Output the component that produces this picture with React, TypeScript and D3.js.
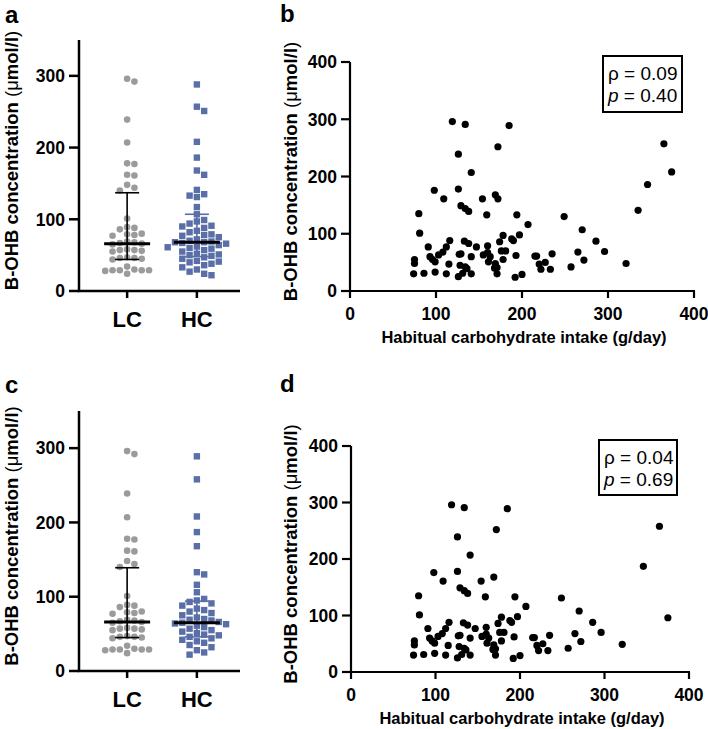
import React from "react";
import * as d3 from "d3";

// groups + stats
const groups = ["LC", "HC"];
const lcValues = [296, 292, 239, 207, 178, 177, 162, 161, 148, 144, 140, 101, 89, 88, 86, 80, 79, 78, 77, 69, 68, 67, 66, 65, 58, 57, 57, 56, 55, 47, 46, 46, 45, 44, 34, 30, 29, 29, 29, 29, 28, 24];
const hcValuesA = [288, 257, 251, 208, 186, 168, 162, 141, 135, 133, 131, 117, 107, 99, 97, 94, 91, 90, 88, 84, 82, 79, 78, 77, 75, 72, 70, 69, 68, 68, 67, 66, 64, 62, 61, 60, 59, 57, 55, 52, 51, 50, 49, 47, 45, 42, 41, 40, 38, 36, 33, 30, 27, 24, 22];
const hcValuesC = [289, 258, 208, 187, 168, 133, 130, 116, 106, 97, 95, 93, 91, 88, 84, 82, 80, 78, 75, 72, 70, 69, 68, 66, 65, 64, 63, 61, 59, 57, 55, 53, 51, 49, 48, 46, 44, 42, 40, 38, 35, 32, 28, 25, 22];
const medianA = [66, 68];
const q1A = [44, 48];
const q3A = [137, 107];
const medianC = [66, 65];
const q1C = [45, 46];
const q3C = [139, 94];
const dotTicks = [0, 100, 200, 300];

// scatter: intake (g/day) vs B-OHB
const intakeB = [119, 134, 185, 126, 172, 141, 98, 126, 109, 154, 169, 172, 129, 134, 138, 80, 159, 194, 81, 207, 91, 93, 96, 99, 103, 108, 112, 116, 75, 75, 74, 86, 99, 112, 115, 129, 133, 138, 141, 147, 128, 134, 136, 131, 126, 141, 127, 160, 160, 155, 163, 161, 169, 171, 171, 174, 178, 181, 178, 188, 190, 193, 192, 200, 197, 176, 168, 365, 374, 346, 335, 249, 270, 286, 296, 321, 265, 272, 257, 235, 215, 217, 220, 227, 222, 233];
const bohbB = [296, 291, 289, 239, 252, 207, 176, 178, 161, 161, 168, 161, 149, 144, 139, 135, 133, 133, 101, 116, 77, 60, 55, 51, 63, 68, 77, 88, 55, 48, 30, 31, 33, 30, 47, 65, 87, 83, 60, 77, 45, 42, 39, 31, 25, 30, 64, 79, 67, 63, 60, 51, 48, 41, 30, 86, 97, 70, 55, 91, 88, 62, 24, 29, 98, 70, 40, 257, 208, 186, 141, 130, 107, 87, 69, 48, 68, 54, 42, 65, 61, 61, 47, 50, 38, 38];
const intakeD = [119, 134, 185, 126, 172, 141, 98, 126, 109, 154, 169, 129, 134, 138, 80, 159, 194, 81, 207, 91, 93, 96, 99, 103, 108, 112, 116, 75, 75, 74, 86, 99, 112, 115, 129, 133, 138, 141, 147, 128, 134, 136, 131, 126, 141, 127, 160, 160, 155, 163, 161, 169, 171, 171, 174, 178, 181, 178, 188, 190, 193, 192, 200, 197, 176, 168, 365, 375, 346, 249, 270, 286, 296, 321, 265, 272, 257, 235, 215, 217, 220, 227, 222, 233];
const bohbD = [296, 291, 289, 239, 252, 207, 176, 178, 161, 161, 168, 149, 144, 139, 135, 133, 133, 101, 116, 77, 60, 55, 51, 63, 68, 77, 88, 55, 48, 30, 31, 33, 30, 47, 65, 87, 83, 60, 77, 45, 42, 39, 31, 25, 30, 64, 79, 67, 63, 60, 51, 48, 41, 30, 86, 97, 70, 55, 91, 88, 62, 24, 29, 98, 70, 40, 258, 96, 187, 131, 108, 88, 70, 49, 68, 54, 42, 65, 61, 61, 47, 50, 38, 38];
const scatterTicks = [0, 100, 200, 300, 400];
const statsB = ["0.09", "0.40"];
const statsD = ["0.04", "0.69"];

const FONT = "'Liberation Sans', Arial, Helvetica, sans-serif";
const GREY = "#9b9b9b";
const BLUE = "#5a6fa8";

type Pt = { x: number; y: number };

// greedy column scatter like prism does it
function swarm(values: number[], y: (v: number) => number, cx: number, step: number, dist: number): Pt[] {
  const out: Pt[] = [];
  const sorted = values.slice().sort((a, b) => b - a);
  for (const v of sorted) {
    const py = y(v);
    for (let k = 0; k < 40; k++) {
      const off = k === 0 ? 0 : (k % 2 === 1 ? 1 : -1) * Math.ceil(k / 2);
      const px = cx + off * step;
      if (out.every((p) => Math.hypot(p.x - px, p.y - py) >= dist)) {
        out.push({ x: px, y: py });
        break;
      }
    }
  }
  return out;
}

function YLabel({ x, y }: { x: number; y: number }) {
  return (
    <text transform={`translate(${x},${y}) rotate(-90)`} textAnchor="middle" fontSize={18.5} fontWeight="bold">
      B-OHB concentration <tspan fontWeight="normal">(μ</tspan>mol/l<tspan fontWeight="normal">)</tspan>
    </text>
  );
}

function DotPanel({ letter, top, bottom, hc, median, q1, q3, letterY }: any) {
  const left = 79;
  const x = d3.scalePoint<string>().domain(groups).range([left, 245]).padding(0.69);
  const y = d3.scaleLinear().domain([0, 350]).range([bottom, top]);
  const lc = swarm(lcValues, y, x("LC")!, 7.3, 6.8);
  const hcPts = swarm(hc, y, x("HC")!, 7.3, 6.8);
  const colors = ["#000", BLUE];
  return (
    <g>
      <text x={5} y={letterY} fontSize={24} fontWeight="bold">{letter}</text>
      <YLabel x={18} y={(top + bottom) / 2 - 5} />
      {lc.map((p, i) => (
        <circle key={"l" + i} cx={p.x} cy={p.y} r={3.3} fill={GREY} />
      ))}
      {hcPts.map((p, i) => (
        <rect key={"h" + i} x={p.x - 3.2} y={p.y - 3.2} width={6.4} height={6.4} fill={BLUE} />
      ))}
      {groups.map((g, i) => {
        const cx = x(g)!;
        return (
          <g key={g} stroke={colors[i]}>
            <line x1={cx} x2={cx} y1={y(q1[i])} y2={y(q3[i])} strokeWidth={1.6} />
            <line x1={cx - 12} x2={cx + 12} y1={y(q1[i])} y2={y(q1[i])} strokeWidth={1.6} />
            <line x1={cx - 12} x2={cx + 12} y1={y(q3[i])} y2={y(q3[i])} strokeWidth={1.6} />
            <line x1={cx - 23} x2={cx + 23} y1={y(median[i])} y2={y(median[i])} strokeWidth={3} stroke="#000" />
          </g>
        );
      })}
      <line x1={left} x2={left} y1={top} y2={bottom} stroke="#000" strokeWidth={2.5} />
      <line x1={left - 1.25} x2={240} y1={bottom} y2={bottom} stroke="#000" strokeWidth={2.5} />
      {dotTicks.map((t) => (
        <g key={t}>
          <line x1={left - 10} x2={left} y1={y(t)} y2={y(t)} stroke="#000" strokeWidth={2.5} />
          <text x={left - 14} y={y(t)} dy="0.36em" textAnchor="end" fontSize={17.5} fontWeight="bold">{t}</text>
        </g>
      ))}
      {groups.map((g) => (
        <g key={g}>
          <line x1={x(g)} x2={x(g)} y1={bottom} y2={bottom + 7} stroke="#000" strokeWidth={2.5} />
          <text x={x(g)} y={bottom + 36} textAnchor="middle" fontSize={22} fontWeight="bold">{g}</text>
        </g>
      ))}
    </g>
  );
}

function ScatterPanel({ letter, letterY, xs, ys, stats, left, right, top, bottom, box }: any) {
  const x = d3.scaleLinear().domain([0, 400]).range([left, right]);
  const y = d3.scaleLinear().domain([0, 400]).range([bottom, top]);
  return (
    <g>
      <text x={280} y={letterY} fontSize={24} fontWeight="bold">{letter}</text>
      <YLabel x={297} y={(top + bottom) / 2 - 5} />
      {xs.map((v: number, i: number) => (
        <circle key={i} cx={x(v)} cy={y(ys[i])} r={3.6} fill="#000" />
      ))}
      <line x1={left} x2={left} y1={top} y2={bottom} stroke="#000" strokeWidth={2.2} />
      <line x1={left - 1} x2={right + 1} y1={bottom} y2={bottom} stroke="#000" strokeWidth={2.2} />
      {scatterTicks.map((t) => (
        <g key={t}>
          <line x1={left - 9} x2={left} y1={y(t)} y2={y(t)} stroke="#000" strokeWidth={2.2} />
          <text x={left - 13} y={y(t)} dy="0.36em" textAnchor="end" fontSize={17.5} fontWeight="bold">{t}</text>
          <line x1={x(t)} x2={x(t)} y1={bottom} y2={bottom + 7} stroke="#000" strokeWidth={2.2} />
          <text x={x(t)} y={bottom + 29} textAnchor="middle" fontSize={17.5} fontWeight="bold">{t}</text>
        </g>
      ))}
      <text x={(left + right) / 2 + 2} y={bottom + 52} textAnchor="middle" fontSize={16.5} fontWeight="bold">
        Habitual carbohydrate intake (g/day)
      </text>
      <rect x={box[0]} y={box[1]} width={box[2]} height={box[3]} fill="none" stroke="#000" strokeWidth={2} />
      <text x={box[0] + 5} y={box[1] + 24} fontSize={19}>ρ = {stats[0]}</text>
      <text x={box[0] + 5} y={box[1] + 46} fontSize={19}>
        <tspan fontStyle="italic">p</tspan> = {stats[1]}
      </text>
    </g>
  );
}

export default function App() {
  return (
    <svg width={708} height={729} style={{ position: "absolute", left: 0, top: 0, background: "#fff" }} fontFamily={FONT}>
      <rect width={708} height={729} fill="#fff" />
      <DotPanel letter="a" letterY={23} top={40} bottom={291} hc={hcValuesA} median={medianA} q1={q1A} q3={q3A} />
      <DotPanel letter="c" letterY={393} top={411} bottom={671} hc={hcValuesC} median={medianC} q1={q1C} q3={q3C} />
      <ScatterPanel letter="b" letterY={22} xs={intakeB} ys={bohbB} stats={statsB} left={350} right={694} top={62} bottom={291} box={[603, 56, 79, 56]} />
      <ScatterPanel letter="d" letterY={392} xs={intakeD} ys={bohbD} stats={statsD} left={351} right={689} top={446} bottom={672} box={[599, 440, 78, 55]} />
    </svg>
  );
}
